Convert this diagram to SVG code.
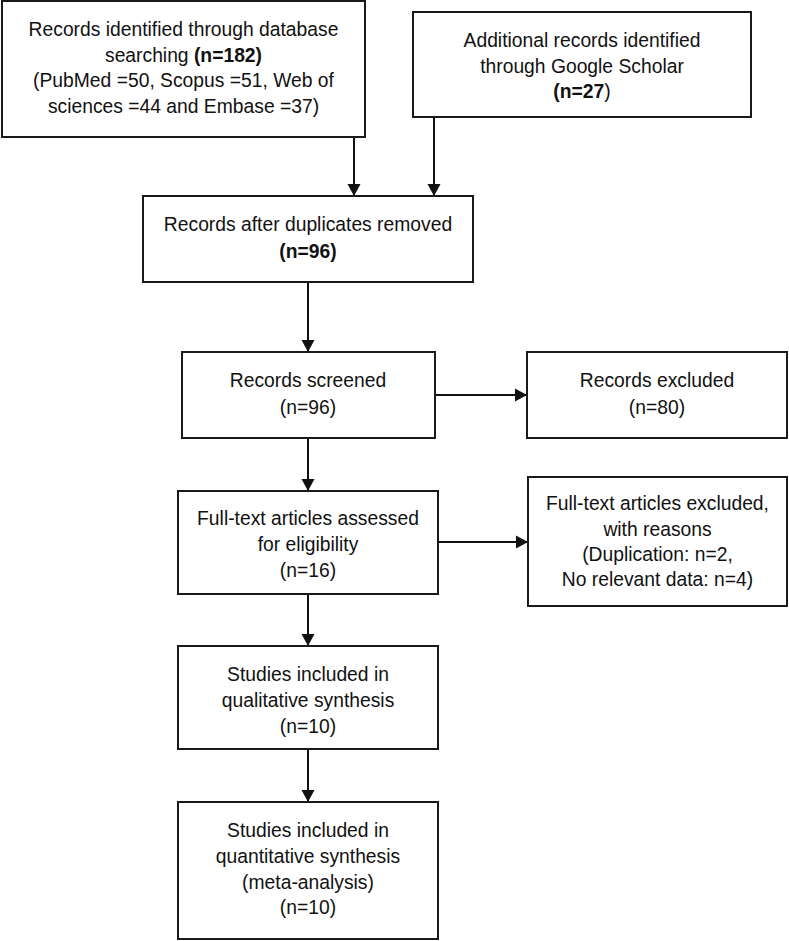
<svg xmlns="http://www.w3.org/2000/svg" width="789" height="941" viewBox="0 0 789 941">
<defs>
<marker id="ah" markerUnits="userSpaceOnUse" markerWidth="16" markerHeight="16" viewBox="0 0 16 16" refX="12" refY="7" orient="auto">
<path d="M0,0.5 L12,7 L0,13.5 Z" fill="#111"/>
</marker>
<style>
rect{fill:#fff;stroke:#1a1a1a;stroke-width:2}
text{font-family:"Liberation Sans",Arial,sans-serif;font-size:19.3px;fill:#111;text-anchor:middle}
.b{font-weight:bold}
#connectors line{stroke:#111;stroke-width:2;marker-end:url(#ah)}
</style>
</defs>
<rect x="0" y="0" width="789" height="941" style="fill:#fff;stroke:none"/>
<g id="connectors">
<line x1="354" y1="137" x2="354" y2="196"/>
<line x1="434" y1="117" x2="434" y2="196"/>
<line x1="308" y1="282" x2="308" y2="352"/>
<line x1="435" y1="395" x2="527" y2="395"/>
<line x1="308" y1="438" x2="308" y2="491"/>
<line x1="438" y1="542" x2="528" y2="542"/>
<line x1="308" y1="594" x2="308" y2="646"/>
<line x1="308" y1="749" x2="308" y2="802"/>
</g>
<g id="n1">
<rect x="2" y="1" width="363" height="136"/>
<text x="183.5" y="35.5">Records identified through database</text>
<text x="183.5" y="61.5">searching <tspan class="b">(n=182)</tspan></text>
<text x="183.5" y="87">(PubMed =50, Scopus =51, Web of</text>
<text x="183.5" y="112.5">sciences =44 and Embase =37)</text>
</g>
<g id="n2">
<rect x="413" y="12" width="338" height="105"/>
<text x="582" y="47">Additional records identified</text>
<text x="582" y="73">through Google Scholar</text>
<text x="582" y="98"><tspan class="b">(n=27</tspan>)</text>
</g>
<g id="n3">
<rect x="143" y="196" width="330" height="86"/>
<text x="308" y="231">Records after duplicates removed</text>
<text x="308" y="257.5" class="b">(n=96)</text>
</g>
<g id="n4">
<rect x="182" y="352" width="253" height="86"/>
<text x="308" y="387">Records screened</text>
<text x="308" y="414">(n=96)</text>
</g>
<g id="n5">
<rect x="527" y="352" width="260" height="86"/>
<text x="657" y="387">Records excluded</text>
<text x="657" y="414">(n=80)</text>
</g>
<g id="n6">
<rect x="528" y="477" width="259" height="129"/>
<text x="657.5" y="510">Full-text articles excluded,</text>
<text x="657.5" y="535.5">with reasons</text>
<text x="657.5" y="561">(Duplication: n=2,</text>
<text x="657.5" y="586">No relevant data: n=4)</text>
</g>
<g id="n7">
<rect x="178" y="491" width="260" height="103"/>
<text x="308" y="525">Full-text articles assessed</text>
<text x="308" y="551">for eligibility</text>
<text x="308" y="577">(n=16)</text>
</g>
<g id="n8">
<rect x="178" y="646" width="260" height="103"/>
<text x="308" y="681">Studies included in</text>
<text x="308" y="706.5">qualitative synthesis</text>
<text x="308" y="733">(n=10)</text>
</g>
<g id="n9">
<rect x="178" y="802" width="260" height="137"/>
<text x="308" y="837">Studies included in</text>
<text x="308" y="863">quantitative synthesis</text>
<text x="308" y="888.5">(meta-analysis)</text>
<text x="308" y="913.5">(n=10)</text>
</g>
</svg>
